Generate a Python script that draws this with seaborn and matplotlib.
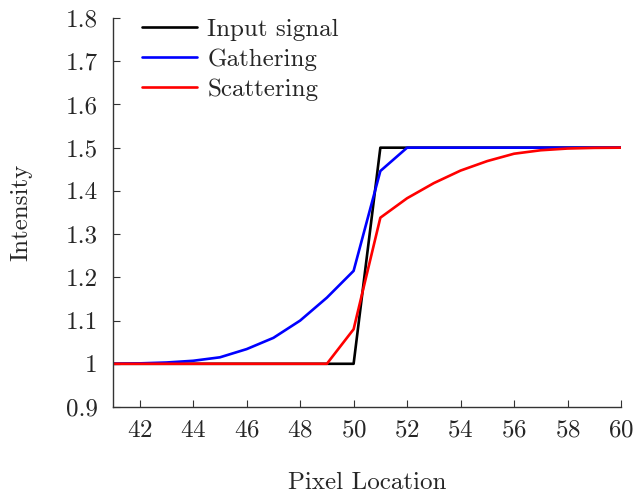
import numpy as np
import pandas as pd
import seaborn as sns
import matplotlib.pyplot as plt

# pixel positions
pixels = list(range(41, 61))

# values
input_signal = [1.0] * 10 + [1.5] * 10
gathering = [1.0, 1.001, 1.003, 1.007, 1.015, 1.034, 1.06, 1.10, 1.153, 1.215,
             1.446, 1.5, 1.5, 1.5, 1.5, 1.5, 1.5, 1.5, 1.5, 1.5]
scattering = [1.0, 1.0, 1.0, 1.0, 1.0, 1.0, 1.0, 1.0, 1.0, 1.08,
              1.338, 1.383, 1.418, 1.447, 1.469, 1.486, 1.494, 1.498, 1.4995, 1.5]

series = ['Input signal', 'Gathering', 'Scattering']
colors = ['black', 'blue', 'red']

df = pd.DataFrame({
    'pixel': pixels * 3,
    'value': input_signal + gathering + scattering,
    'series': np.repeat(series, len(pixels)),
})

sns.set_style('ticks')
plt.rcParams['font.family'] = ['cmr10', 'DejaVu Serif']
plt.rcParams['axes.formatter.use_mathtext'] = True
plt.rcParams['mathtext.fontset'] = 'cm'

fig = plt.figure(figsize=(6.33, 4.93), dpi=100)
ax = fig.add_axes([0.1785, 0.1744, 0.8025, 0.7891])

sns.lineplot(data=df, x='pixel', y='value', hue='series', hue_order=series,
             palette=colors, linewidth=1.9, ax=ax)

ax.set_xlim(41, 60)
ax.set_ylim(0.9, 1.8)
ax.set_xticks(range(42, 61, 2))
ax.set_yticks(np.arange(0.9, 1.81, 0.1))
ax.set_yticklabels(['0.9', '1', '1.1', '1.2', '1.3', '1.4', '1.5', '1.6', '1.7', '1.8'])
ax.tick_params(direction='in', labelsize=18, length=5, width=0.8, color='#333333')
ax.tick_params(axis='y', pad=11)
ax.tick_params(axis='x', pad=9)
ax.set_xlabel('Pixel Location', fontsize=18, labelpad=22)
ax.set_ylabel('Intensity', fontsize=18, labelpad=24)
sns.despine(ax=ax)
for s in ['left', 'bottom']:
    ax.spines[s].set_color('#333333')
    ax.spines[s].set_linewidth(1.0)

leg = ax.legend(loc='upper left', frameon=False, fontsize=18, handlelength=2.2,
                labelspacing=0.3, handletextpad=0.4, borderaxespad=0.0,
                bbox_to_anchor=(0.038, 1.025))

fig.savefig('out.png', dpi=100)
